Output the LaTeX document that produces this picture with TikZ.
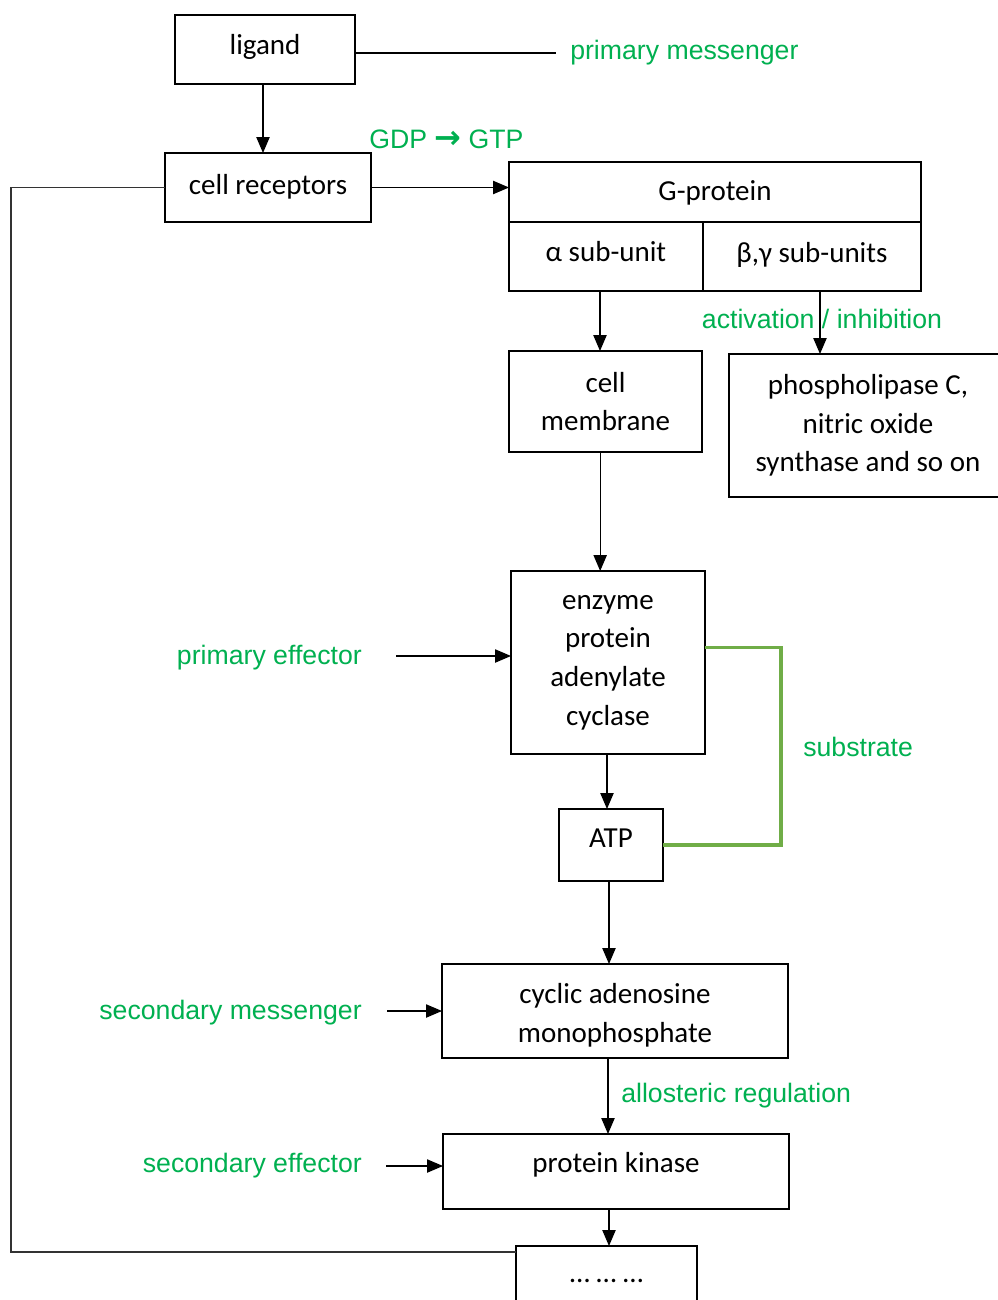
\documentclass[tikz,border=0pt]{standalone}
\usepackage{fontspec}
\usepackage{tikz}
\usepackage{xcolor}
\usetikzlibrary{arrows.meta}
\setmainfont{Carlito}
\newfontfamily\greenfont{Liberation Sans}
\newfontfamily\arrowfont{DejaVu Sans}
\definecolor{labelgreen}{RGB}{0,176,80}
\definecolor{substrategreen}{RGB}{112,173,71}

\tikzset{
  box/.style={draw, line width=1.8pt, rectangle, inner sep=0pt, outer sep=0pt, align=center,
    font=\fontsize{21.75}{29}\selectfont},
  greentext/.style={inner sep=0pt, text=labelgreen, font=\greenfont\fontsize{20}{24}\selectfont},
  link/.style={line width=0.9pt, -{Triangle[length=12pt,width=10pt]}},
  plainlink/.style={line width=0.9pt},
  feedback/.style={line width=0.9pt, draw=black!80},
  substrate/.style={line width=2.3pt, draw=substrategreen}
}
\newcommand{\boxlines}[2]{\raisebox{#1}[\height][\depth]{\begin{tabular}{@{}c@{}}#2\end{tabular}}}

\begin{document}
\begin{tikzpicture}[x=0.75pt,y=0.75pt,yscale=-1,xscale=1]
        \useasboundingbox (0,0) rectangle (997,1300);

        %Shape: Rectangle
        \node [box, minimum width=135pt, minimum height=51.75pt] (ligand) at (265,49.5) {\boxlines{2.25pt}{ligand}};
        %Shape: Rectangle
        \node [box, minimum width=154.5pt, minimum height=51.75pt] (receptors) at (268,187.5) {\boxlines{0.75pt}{cell receptors}};
        %Shape: Rectangle
        \node [box, minimum width=309pt, minimum height=45pt] (gprotein) at (715,192) {\boxlines{-0.75pt}{G-protein}};
        %Shape: Rectangle
        \node [box, minimum width=145.5pt, minimum height=51.75pt] (alpha) at (606,256.5) {\boxlines{2.25pt}{α sub-unit}};
        %Shape: Rectangle
        \node [box, minimum width=163.5pt, minimum height=51.75pt] (betagamma) at (812,256.5) {\boxlines{1.5pt}{β,γ sub-units}};
        %Shape: Rectangle
        \node [box, minimum width=144.75pt, minimum height=75.75pt] (membrane) at (605.5,401.5) {cell\\membrane};
        %Shape: Rectangle
        \node [box, minimum width=208.5pt, minimum height=107.25pt] (phospho) at (868,425.5) {phospholipase C,\\nitric oxide\\synthase and so on};
        %Shape: Rectangle
        \node [box, minimum width=145.5pt, minimum height=137.25pt] (enzyme) at (608,662.5) {enzyme\\protein\\adenylate\\cyclase};
        %Shape: Rectangle
        \node [box, minimum width=78pt, minimum height=54pt] (atp) at (611,845) {\boxlines{3.75pt}{ATP}};
        %Shape: Rectangle
        \node [box, minimum width=259.5pt, minimum height=70.5pt] (camp) at (615,1011) {\boxlines{-3pt}{cyclic adenosine\\monophosphate}};
        %Shape: Rectangle
        \node [box, minimum width=259.5pt, minimum height=56.25pt] (kinase) at (616,1171.5) {\boxlines{5.25pt}{protein kinase}};
        %Shape: Rectangle
        \node [box, minimum width=135.75pt, minimum height=52.5pt] (dots) at (606.5,1281) {… … …};

        % Text Node
        \node [greentext, anchor=west] (primmsg) at (570,53) {primary messenger};
        % Text Node
        \node [greentext, anchor=west] (gdpgtp) at (369,139) {GDP {\arrowfont\bfseries\fontsize{24}{24}\selectfont →} GTP};
        % Text Node
        \node [greentext] (actinh) at (822,319) {activation / inhibition};
        % Text Node
        \node [greentext, anchor=east] (primeff) at (362,658) {primary effector};
        % Text Node
        \node [greentext, anchor=west] (subtext) at (803,747) {substrate};
        % Text Node
        \node [greentext, anchor=east] (secmsg) at (362,1013) {secondary messenger};
        % Text Node
        \node [greentext, anchor=west] (allost) at (621,1096) {allosteric regulation};
        % Text Node
        \node [greentext, anchor=east] (seceff) at (362,1166) {secondary effector};

        \coordinate (msgend) at (556,53);
        \coordinate (effstart) at (396,656);
        \coordinate (secmsgstart) at (387,1011);
        \coordinate (seceffstart) at (386,1166);
        \coordinate (loopleft) at (11,700);
        \coordinate (subright) at (781,745);

        %Straight Lines
        \draw [plainlink] (ligand.east |- msgend) -- (msgend);
        \draw [link] ([xshift=-1.5pt]ligand.south) -- ([xshift=-1.5pt]ligand.south |- receptors.north);
        \draw [link] (receptors.east) -- (receptors.east -| gprotein.west);
        \draw [link] ([xshift=-4.5pt]alpha.south) -- ([xshift=-4.5pt]alpha.south |- membrane.north);
        \draw [link] ([xshift=6pt]betagamma.south) -- ([xshift=6pt]betagamma.south |- phospho.north);
        \draw [link] ([xshift=-4pt]membrane.south) -- ([xshift=-4pt]membrane.south |- enzyme.north);
        \draw [link] ([xshift=-0.75pt]enzyme.south) -- ([xshift=-0.75pt]enzyme.south |- atp.north);
        \draw [link] ([xshift=-1.5pt]atp.south) -- ([xshift=-1.5pt]atp.south |- camp.north);
        \draw [link] ([xshift=-5.25pt]camp.south) -- ([xshift=-5.25pt]camp.south |- kinase.north);
        \draw [link] ([xshift=-5.25pt]kinase.south) -- ([xshift=-5.25pt]kinase.south |- dots.north);
        \draw [link] (effstart) -- (effstart -| enzyme.west);
        \draw [link] (secmsgstart) -- (secmsgstart -| camp.west);
        \draw [link] (seceffstart) -- (seceffstart -| kinase.west);

        %Feedback line
        \draw [feedback] ([yshift=4.5pt]dots.north west) -| (loopleft) |- (receptors.west);
        %Substrate line
        \draw [substrate] ([yshift=-11.6pt]enzyme.east) -| (subright) |- (atp.east);

\end{tikzpicture}
\end{document}
